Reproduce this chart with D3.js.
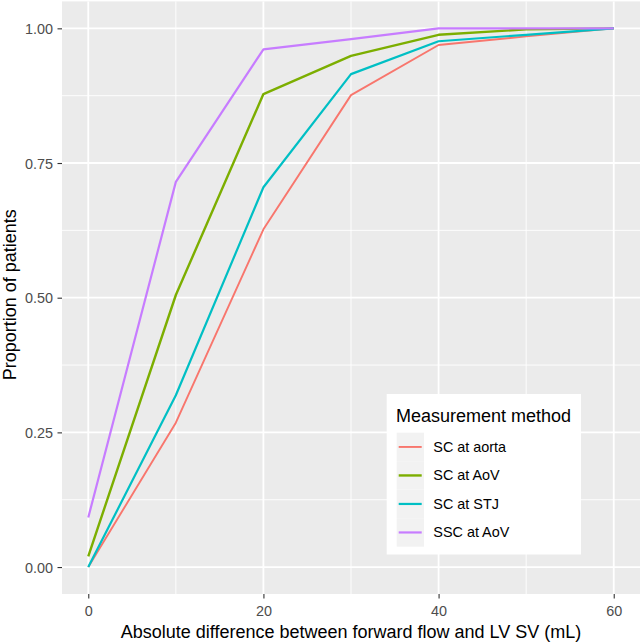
<!DOCTYPE html>
<html><head><meta charset="utf-8">
<script src="https://cdn.jsdelivr.net/npm/d3@7"></script>
<style>body{margin:0;background:#fff}svg{display:block}text{font-family:"Liberation Sans",Arial,sans-serif}</style>
</head><body>
<svg id="chart" width="641" height="644"></svg>
<script>
const xValues = [0, 10, 20, 30, 40, 50, 60];
const seriesNames = ["SC at aorta", "SC at AoV", "SC at STJ", "SSC at AoV"];
const scAorta = [0.00, 0.268, 0.627, 0.876, 0.969, 0.985, 1.00];
const scAoV   = [0.020, 0.505, 0.878, 0.949, 0.988, 0.998, 1.00];
const scSTJ   = [0.00, 0.319, 0.705, 0.915, 0.976, 0.988, 1.00];
const sscAoV  = [0.092, 0.715, 0.961, 0.980, 1.00, 1.00, 1.00];
const seriesValues = [scAorta, scAoV, scSTJ, sscAoV];
const colors = ["#F8766D", "#7CAE00", "#00BFC4", "#C77CFF"];
const widths = [1.9, 2.4, 2.2, 2.2];
const xTicks = [0, 20, 40, 60];
const xMinor = [10, 30, 50];
const yTicks = [0, 0.25, 0.5, 0.75, 1];
const yMinor = [0.125, 0.375, 0.625, 0.875];
const xTitle = "Absolute difference between forward flow and LV SV (mL)";
const yTitle = "Proportion of patients";
const legendTitle = "Measurement method";

const svg = d3.select("#chart");
const P = {left: 62, right: 640, top: 1.4, bottom: 594};
const x = d3.scaleLinear().domain([-3, 63]).range([P.left, P.right]);
const y = d3.scaleLinear().domain([-0.05, 1.05]).range([P.bottom, P.top]);

svg.append("rect").attr("x", P.left).attr("y", P.top)
  .attr("width", P.right - P.left).attr("height", P.bottom - P.top).attr("fill", "#EBEBEB");

const grid = svg.append("g");
grid.selectAll(".xm").data(xMinor).join("line")
  .attr("x1", d => x(d)).attr("x2", d => x(d)).attr("y1", P.top).attr("y2", P.bottom)
  .attr("stroke", "#fff").attr("stroke-width", 0.9);
grid.selectAll(".ym").data(yMinor).join("line")
  .attr("y1", d => y(d)).attr("y2", d => y(d)).attr("x1", P.left).attr("x2", P.right)
  .attr("stroke", "#fff").attr("stroke-width", 0.9);
grid.selectAll(".xM").data(xTicks).join("line")
  .attr("x1", d => x(d)).attr("x2", d => x(d)).attr("y1", P.top).attr("y2", P.bottom)
  .attr("stroke", "#fff").attr("stroke-width", 1.8);
grid.selectAll(".yM").data(yTicks).join("line")
  .attr("y1", d => y(d)).attr("y2", d => y(d)).attr("x1", P.left).attr("x2", P.right)
  .attr("stroke", "#fff").attr("stroke-width", 1.8);

// lines
const line = d3.line().x((d, i) => x(xValues[i])).y(d => y(d));
svg.append("g").selectAll("path").data(seriesValues).join("path")
  .attr("d", d => line(d)).attr("fill", "none")
  .attr("stroke", (d, i) => colors[i]).attr("stroke-width", (d, i) => widths[i])
  .attr("stroke-linejoin", "round");

// axes
const xAxis = d3.axisBottom(x).tickValues(xTicks).tickSize(4.5).tickPadding(3).tickFormat(d3.format("d"));
const gx = svg.append("g").attr("transform", `translate(0,${P.bottom})`).call(xAxis);
gx.select(".domain").remove();
gx.selectAll(".tick line").attr("stroke", "#333333").attr("stroke-width", 1.1);
gx.selectAll(".tick text").attr("fill", "#4D4D4D").attr("font-size", 14.4)
  .attr("font-family", "Liberation Sans, Arial, sans-serif").attr("dy", null).attr("y", 21.5);

const yAxis = d3.axisLeft(y).tickValues(yTicks).tickSize(4.5).tickPadding(4.5).tickFormat(d3.format(".2f"));
const gy = svg.append("g").attr("transform", `translate(${P.left},0)`).call(yAxis);
gy.select(".domain").remove();
gy.selectAll(".tick line").attr("stroke", "#333333").attr("stroke-width", 1.1);
gy.selectAll(".tick text").attr("fill", "#4D4D4D").attr("font-size", 14.4)
  .attr("font-family", "Liberation Sans, Arial, sans-serif").attr("dy", "0.35em");

svg.append("text").attr("x", (P.left + P.right) / 2).attr("y", 638)
  .attr("text-anchor", "middle").attr("font-size", 18).attr("fill", "#000").text(xTitle);
svg.append("text").attr("transform", `translate(15.5,${(P.top + P.bottom) / 2 - 3}) rotate(-90)`)
  .attr("text-anchor", "middle").attr("font-size", 18).attr("fill", "#000").text(yTitle);

// legend
const lg = svg.append("g");
lg.append("rect").attr("x", 386.7).attr("y", 394).attr("width", 194.3).attr("height", 160.5).attr("fill", "#fff");
lg.append("text").attr("x", 396).attr("y", 421.5).attr("font-size", 18).attr("fill", "#000").text(legendTitle);
const keyH = 28.5, key0 = 432.7;
const items = lg.selectAll(".item").data(seriesNames).join("g")
  .attr("transform", (d, i) => `translate(396.7,${key0 + i * keyH})`);
items.append("rect").attr("width", 27.3).attr("height", keyH).attr("fill", "#F2F2F2");
items.append("line").attr("x1", 2).attr("x2", 25).attr("y1", keyH / 2).attr("y2", keyH / 2)
  .attr("stroke", (d, i) => colors[i]).attr("stroke-width", (d, i) => widths[i]);
items.append("text").attr("x", 36.6).attr("y", keyH / 2).attr("dy", "0.35em")
  .attr("font-size", 14.4).attr("fill", "#000").text(d => d);
</script>
</body></html>
